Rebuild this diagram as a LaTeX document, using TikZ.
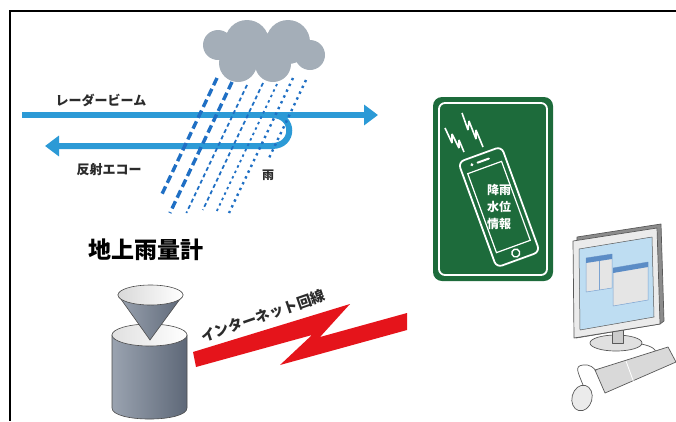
\documentclass[tikz,border=0pt]{standalone}
\usepackage{fontspec}
\newfontfamily\jp{Noto Sans CJK JP}
\usetikzlibrary{arrows.meta}
\definecolor{beamblue}{HTML}{2C9AD6}
\definecolor{rainblue}{HTML}{1F6FC4}
\definecolor{cloudgray}{HTML}{A4AEB8}
\definecolor{linkred}{HTML}{E5141B}
\definecolor{signgreen}{HTML}{1D6B3B}
\definecolor{gaugedark}{HTML}{5E6878}
\definecolor{gaugelight}{HTML}{9AA3B0}
\definecolor{screenblue}{HTML}{BEDDF2}
\definecolor{winblue}{HTML}{5B8CC6}
\definecolor{textgray}{HTML}{2B2B2B}

\begin{document}
\begin{tikzpicture}[x=1pt,y=-1pt,
    beam/.style={beamblue,line width=6pt,-{Triangle[length=14pt,width=20pt]}},
    jptext/.style={font=\jp\bfseries\fontsize{13}{15}\selectfont,text=textgray,inner sep=0pt},
    lobe/.style={fill=cloudgray},
    pcpart/.style={draw=black!65,line width=0.7pt,line join=round},
    winframe/.style={pcpart,draw=winblue!80,fill=black!10,line width=0.5pt}]
    \useasboundingbox (0,0) rectangle (676,421);
    \draw[line width=2pt] (676,11) -- (10,11) -- (10,421);

    % cloud
    \fill[lobe] (218,45) circle (15) (247,42) circle (22) (288,42) circle (22)
        (310,55) circle (15) (238,63) circle (19) (273,64) circle (18);

    % radar beam and echo
    \coordinate (beamstart) at (22,115);
    \coordinate (beamend) at (378,115);
    \coordinate (echoturn) at (272,115);
    \coordinate (echoback) at (272,146);
    \coordinate (echoend) at (45,146);
    \draw[beam] (beamstart) -- (beamend);
    \draw[beam] (echoturn) .. controls +(23,0) and +(23,0) .. (echoback) -- (echoend);

    % rain
    \foreach \tx/\ty/\by/\w/\on/\off in {217/78/195/3.4/8/4, 232/82/213/3.4/8/4,
        247/85/213/1.8/4/3, 263/83/210/1.8/4/3, 277/84/214/1.8/2.5/3.5,
        293/78/213/2.4/2.4/4, 306/80/160/2.4/2.4/4}
        \draw[rainblue,line width=\w pt,dash pattern=on \on pt off \off pt]
            (\tx,\ty) -- ++({-0.474*(\by-\ty)},{\by-\ty});

    \node[jptext] (beamtext) at (101,100) {レーダービーム};
    \node[jptext] (echotext) at (109,170) {反射エコー};
    \node[jptext,font=\jp\bfseries\fontsize{12}{14}\selectfont] (raintext) at (268,175) {雨};

    % rain gauge
    \node[jptext,text=black,font=\jp\bfseries\fontsize{23}{26}\selectfont] (gaugetext) at (146,250) {地上雨量計};
    \shade[left color=gaugelight,right color=gaugedark,draw=black!70,line width=0.6pt]
        (112,335) -- (112,408) .. controls (112,422.7) and (187,422.7) .. (187,408)
        -- (187,335) -- cycle;
    \shade[left color=black!12,right color=white,draw=black!70,line width=0.6pt]
        (149.5,335) ellipse [x radius=37.5,y radius=11];
    \shade[left color=gaugelight,right color=gaugedark,draw=black!70,line width=0.6pt]
        (118,295) -- (150,340) -- (183,295) -- cycle;
    \shade[left color=black!15,right color=white,draw=black!70,line width=0.6pt]
        (150.5,295) ellipse [x radius=32.5,y radius=10];

    % internet line
    \fill[linkred] (193,352) -- (350,304) -- (320,337) -- (407,313) -- (407,330)
        -- (280,365) -- (312,335) -- (196,367) -- cycle;
    \node[jptext,rotate=19,font=\jp\bfseries\fontsize{14.5}{16}\selectfont] (nettext) at (263,316) {インターネット回線};

    % smartphone sign
    \node[fill=signgreen,rounded corners=9pt,minimum width=120pt,minimum height=184pt] (sign) at (493,189) {};
    \draw[white,line width=1.8pt,rounded corners=6pt] (439,103) rectangle (547,275);
    \draw[white,line width=1.6pt,line join=bevel]
        (445,128) -- (452,143) -- (452,134) -- (459,148) -- (459,140) -- (464,152)
        (462,113) -- (468,130) -- (469,121) -- (476,139) -- (476,130) -- (483,147);
    \begin{scope}[shift={(499,207)},rotate=20]
        \draw[white,line width=1.8pt,rounded corners=6pt] (-23,-56) rectangle (23,56);
        \draw[white,line width=1.2pt] (-18,-42) rectangle (18,42);
        \draw[white,line width=2pt,line cap=round] (-5,-49) -- (7,-49);
        \fill[white] (-11,-49) circle (1.6);
        \draw[white,line width=1.4pt] (0,49) circle (4);
        \node[white,font=\jp\bfseries\fontsize{12}{17}\selectfont,align=center,inner sep=0pt] (phonetext) at (0,0) {降雨\\水位\\情報};
    \end{scope}

    % computer
    \filldraw[pcpart,fill=black!12] (616,343) ellipse [x radius=26,y radius=8];
    \filldraw[pcpart,fill=black!20] (612,325) rectangle (623,343);
    \filldraw[pcpart,fill=black!45] (577,237) -- (661,224) -- (664,321) -- (660,324) -- (576,338) -- cycle;
    \filldraw[pcpart,fill=black!8] (573,241) -- (657,228) -- (660,324) -- (574,338) -- cycle;
    \filldraw[pcpart,fill=screenblue,line width=0.5pt] (579,249) -- (652,237) -- (654,317) -- (580,330) -- cycle;
    \filldraw[winframe] (586,258) -- (612,254) -- (612,288) -- (586,292) -- cycle;
    \fill[winblue] (586,258) -- (612,254) -- (612,259) -- (586,263) -- cycle;
    \draw[winblue!80,line width=0.5pt] (599,261) -- (599,290);
    \filldraw[winframe] (613,268) -- (648,262) -- (648,300) -- (613,306) -- cycle;
    \fill[winblue] (613,268) -- (648,262) -- (648,267) -- (613,273) -- cycle;
    \draw[pcpart] (641,344) .. controls (652,346) and (658,350) .. (656,355);
    \filldraw[pcpart,fill=black!15] (595,370) -- (668,347) -- (676,362) -- (605,393) -- cycle;
    \draw[white,line width=0.8pt] (626,361) -- (634,383);
    \draw[pcpart] (583,385) .. controls (578,372) and (574,366) .. (583,365)
        .. controls (590,364) and (594,368) .. (596,371);
    \filldraw[pcpart,fill=black!8,rotate around={-15:(582,398)}] (582,398) ellipse [x radius=10,y radius=13];
\end{tikzpicture}
\end{document}
